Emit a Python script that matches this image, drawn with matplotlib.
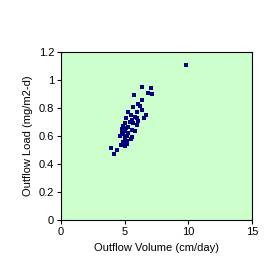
import matplotlib
matplotlib.use('Agg')
import matplotlib.pyplot as plt

plt.rcParams['font.family'] = ['Liberation Sans', 'DejaVu Sans']

# outflow volume (cm/day) and outflow load (mg/m2-d)
volume = [9.82, 6.36, 7.07, 6.83, 7.15, 5.73, 6.36, 6.07, 6.2, 5.68, 6.36, 5.94,
          5.26, 6.68, 5.47, 5.81, 5.1, 6.5, 5.94, 5.55, 6.05, 5.03, 5.68, 5.94,
          4.9, 5.29, 4.82, 5.55, 5.79, 5.03, 5.29, 4.9, 5.16, 4.63, 5.47, 5.03,
          5.21, 4.9, 5.21, 4.69, 5.03, 3.93, 4.37, 4.14, 5.4, 5.1, 4.8, 5.6]
load = [1.107, 0.952, 0.943, 0.909, 0.902, 0.895, 0.857, 0.829, 0.817, 0.805,
        0.786, 0.774, 0.771, 0.75, 0.75, 0.738, 0.729, 0.729, 0.726, 0.714,
        0.705, 0.695, 0.69, 0.676, 0.671, 0.667, 0.652, 0.643, 0.638, 0.633,
        0.619, 0.614, 0.6, 0.6, 0.581, 0.583, 0.567, 0.56, 0.543, 0.533,
        0.529, 0.514, 0.5, 0.474, 0.7, 0.66, 0.62, 0.59]

fig = plt.figure(figsize=(2.8, 2.69), dpi=100)
ax = fig.add_axes([0.218, 0.182, 0.682, 0.625])
ax.set_facecolor('#CCFFCC')
ax.plot(volume, load, 's', color='#000080', markersize=3.2, markeredgewidth=0)

ax.set_xlim(0, 15)
ax.set_ylim(0, 1.2)
ax.set_xticks([0, 5, 10, 15])
ax.set_yticks([0, 0.2, 0.4, 0.6, 0.8, 1, 1.2])
ax.set_yticklabels(['0', '0.2', '0.4', '0.6', '0.8', '1', '1.2'])
ax.tick_params(labelsize=8, length=3, width=0.8, direction='out', pad=2)
for s in ax.spines.values():
    s.set_linewidth(0.8)
ax.set_xlabel('Outflow Volume (cm/day)', fontsize=8, labelpad=4)
ax.set_ylabel('Outflow Load (mg/m2-d)', fontsize=8, labelpad=4)

fig.savefig('out.png', dpi=100)
